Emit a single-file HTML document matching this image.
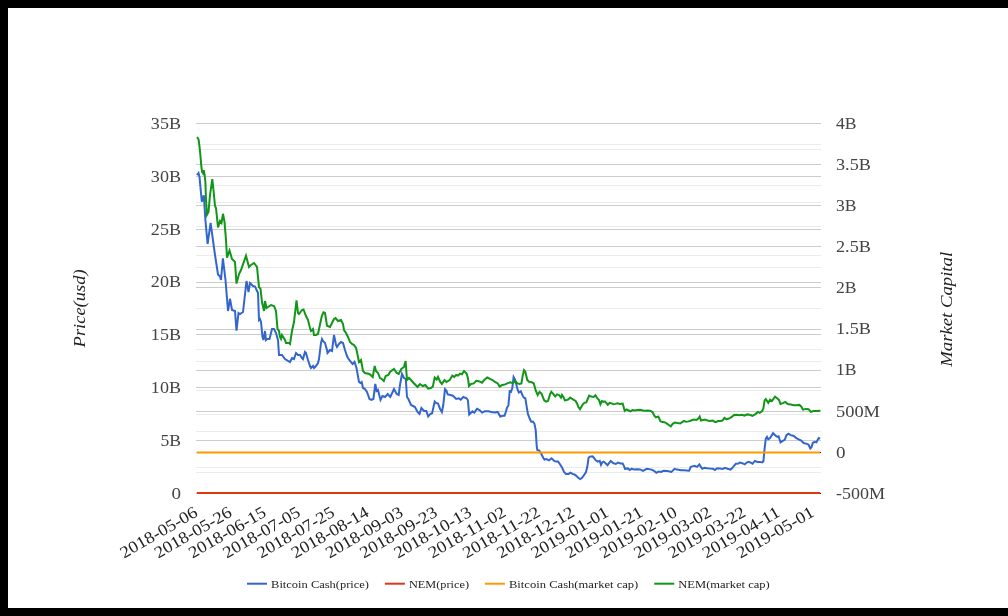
<!DOCTYPE html><html><head><meta charset="utf-8"><title>Chart</title><style>
html,body{margin:0;padding:0;background:#000;}
body{width:1008px;height:616px;overflow:hidden;position:relative;}
svg{position:absolute;left:0;top:0;display:block;will-change:transform;}
text{font-family:"Liberation Serif",serif;}
</style></head><body>
<svg width="1008" height="616" viewBox="0 0 1008 616">
<rect x="8" y="8" width="1000" height="600" fill="#ffffff"/>
<g fill="#ebebeb">
<rect x="196" y="144" width="625" height="1"/>
<rect x="196" y="149" width="625" height="1"/>
<rect x="196" y="185" width="625" height="1"/>
<rect x="196" y="202" width="625" height="1"/>
<rect x="196" y="226" width="625" height="1"/>
<rect x="196" y="255" width="625" height="1"/>
<rect x="196" y="267" width="625" height="1"/>
<rect x="196" y="308" width="625" height="1"/>
<rect x="196" y="349" width="625" height="1"/>
<rect x="196" y="361" width="625" height="1"/>
<rect x="196" y="390" width="625" height="1"/>
<rect x="196" y="414" width="625" height="1"/>
<rect x="196" y="431" width="625" height="1"/>
<rect x="196" y="467" width="625" height="1"/>
<rect x="196" y="472" width="625" height="1"/>
</g><g fill="#cccccc">
<rect x="196" y="123" width="625" height="1"/>
<rect x="196" y="164" width="625" height="1"/>
<rect x="196" y="176" width="625" height="1"/>
<rect x="196" y="205" width="625" height="1"/>
<rect x="196" y="229" width="625" height="1"/>
<rect x="196" y="246" width="625" height="1"/>
<rect x="196" y="282" width="625" height="1"/>
<rect x="196" y="287" width="625" height="1"/>
<rect x="196" y="329" width="625" height="1"/>
<rect x="196" y="334" width="625" height="1"/>
<rect x="196" y="370" width="625" height="1"/>
<rect x="196" y="387" width="625" height="1"/>
<rect x="196" y="411" width="625" height="1"/>
<rect x="196" y="440" width="625" height="1"/>
<rect x="196" y="452" width="625" height="1"/>
<rect x="196" y="493" width="625" height="1"/>
</g>
<polyline points="196.9,175.0 198.5,173.0 199.5,177.0 201.8,201.6 203.8,195.3 205.4,220.0 207.6,244.0 210.6,222.9 215.0,255.0 218.0,274.5 220.0,276.5 221.0,280.0 222.9,258.3 225.5,280.0 228.0,311.0 230.0,298.8 232.0,310.0 235.0,311.0 236.5,330.6 238.5,313.0 240.0,314.0 243.0,312.0 246.5,281.0 248.5,292.0 250.0,283.0 253.0,286.0 255.0,286.5 258.0,293.0 259.0,320.0 260.0,319.0 261.0,322.0 262.5,337.0 263.5,340.0 265.0,331.0 266.0,340.0 267.0,339.0 269.5,339.0 272.0,329.0 274.0,329.0 276.0,333.0 278.0,340.0 279.0,355.0 280.0,355.0 282.0,355.0 285.0,359.0 290.0,362.0 292.0,358.0 294.0,359.0 296.0,353.0 298.0,355.0 300.0,355.0 302.0,358.0 303.0,359.0 305.0,352.0 306.0,353.0 308.0,360.0 310.0,366.0 311.0,368.0 313.0,366.0 314.0,368.0 316.0,366.0 318.0,363.0 319.0,359.0 321.0,343.0 322.0,339.0 323.0,341.0 325.0,343.0 327.0,350.0 327.5,353.0 330.0,350.0 332.0,351.0 334.0,335.0 336.0,345.0 337.0,347.0 339.0,344.0 341.0,342.0 343.0,343.0 345.0,350.0 347.0,356.0 348.0,358.0 350.0,361.0 352.6,364.0 354.5,362.0 356.5,368.0 359.0,382.0 360.4,383.0 361.7,382.0 363.0,388.0 365.0,389.0 367.0,392.0 369.5,399.0 371.4,400.0 373.4,399.0 375.3,384.0 376.6,391.0 378.0,390.0 380.5,400.0 382.5,396.0 385.0,397.0 387.7,394.0 390.3,397.0 394.0,389.0 396.7,394.0 398.7,395.0 400.0,385.0 402.0,374.0 404.0,378.0 405.8,379.0 407.0,397.0 408.4,399.0 411.0,405.0 413.0,406.0 415.0,407.0 417.5,412.0 419.5,414.0 421.4,408.0 424.0,411.0 426.3,411.0 428.2,416.5 430.2,414.0 432.1,413.2 434.7,401.6 436.0,402.9 438.0,403.5 440.0,408.7 441.9,412.0 443.2,405.5 445.0,389.2 446.4,390.5 447.7,394.4 450.3,395.0 452.9,395.7 456.2,399.0 458.8,398.3 460.7,399.6 463.3,397.0 466.6,398.3 467.9,400.3 469.2,414.5 470.5,413.2 472.4,411.3 474.4,412.6 477.0,408.7 479.5,410.0 482.1,412.6 484.7,411.3 488.6,411.3 491.2,412.0 495.0,412.6 497.7,412.0 500.3,416.5 503.0,415.8 504.5,415.8 505.8,412.0 507.1,407.4 508.4,405.5 509.7,391.2 511.0,391.8 512.3,388.0 513.6,376.9 515.0,379.5 516.2,384.0 517.5,389.2 518.8,392.5 520.8,391.2 522.7,395.7 524.0,397.7 525.3,398.3 526.6,406.1 527.9,413.9 529.9,419.0 531.2,421.7 533.1,421.7 534.4,423.6 535.7,430.1 536.7,446.0 537.3,449.9 539.3,450.5 541.2,453.8 543.2,457.7 544.5,459.6 546.4,459.0 549.0,460.3 551.6,458.3 554.2,460.9 556.2,461.6 558.1,461.6 560.0,464.2 562.0,467.4 564.0,472.0 566.0,473.9 568.5,473.9 570.5,472.6 572.4,473.9 574.4,474.5 576.3,475.8 578.2,477.8 580.2,479.1 582.1,477.8 584.0,475.2 586.0,472.0 587.3,466.8 588.6,457.7 589.9,456.6 592.5,456.4 593.8,457.7 595.8,460.3 597.7,461.6 599.7,460.9 601.0,464.8 602.3,462.2 603.6,461.6 604.8,462.5 607.5,465.2 610.7,460.9 613.5,463.3 615.9,464.0 617.9,462.5 620.6,463.4 622.6,463.4 623.8,465.6 625.0,468.8 627.8,468.4 629.8,470.0 631.7,468.7 634.1,469.6 637.3,469.2 640.1,469.4 642.9,470.8 646.8,468.8 651.6,469.6 654.0,470.8 656.3,472.8 658.7,471.6 661.1,472.0 663.5,470.8 667.5,471.0 671.4,472.0 674.6,468.8 677.0,469.6 680.9,470.3 683.8,470.3 686.8,470.6 689.2,470.8 690.7,466.9 692.6,466.4 694.6,465.9 697.0,466.9 699.4,464.4 700.9,466.9 702.3,468.8 704.3,467.8 707.2,468.3 710.1,468.6 713.0,468.8 715.0,470.0 717.0,468.3 719.9,468.6 722.8,469.0 724.7,467.8 727.7,468.8 730.6,469.6 732.0,468.3 734.0,465.9 735.9,463.8 738.4,463.5 739.8,462.5 742.3,463.2 744.7,464.4 746.2,463.0 748.1,461.8 750.5,462.5 752.5,463.8 754.9,460.9 757.3,461.9 759.7,461.9 762.2,462.5 763.4,461.3 764.6,448.5 765.8,438.7 767.0,436.9 768.3,439.3 770.1,438.1 773.1,433.2 775.6,435.7 777.4,436.9 778.6,436.3 780.5,442.4 782.3,441.2 784.7,439.9 786.5,435.1 788.4,433.6 790.8,435.1 793.8,436.0 796.3,438.1 798.7,439.3 801.2,440.5 803.6,443.0 806.0,443.6 808.5,444.6 810.3,448.5 811.5,447.2 812.7,443.0 814.6,441.8 816.4,442.4 817.6,440.0 818.8,438.1 820.1,438.7" fill="none" stroke="#3366cc" stroke-width="2"/>
<path d="M196.86 493H820.14" stroke="#dc3912" stroke-width="2" fill="none"/>
<path d="M196.86 452.40H820.14" stroke="#ff9900" stroke-width="2" fill="none"/>
<polyline points="197.1,137.0 198.6,139.5 199.7,148.2 200.5,156.4 201.3,166.1 202.1,171.8 202.9,173.0 203.7,170.1 204.5,174.2 205.4,182.0 206.0,200.0 207.0,214.8 208.5,212.0 210.0,195.0 212.3,179.2 213.5,190.0 215.0,206.0 216.0,208.0 218.0,227.4 220.0,221.0 221.5,223.0 223.0,213.8 224.5,222.0 226.0,240.0 227.0,257.7 229.5,250.5 232.0,259.0 235.0,262.0 236.5,283.6 239.0,274.0 241.0,270.0 246.0,255.7 249.0,267.0 251.0,265.0 254.0,263.0 257.0,267.0 259.0,287.0 260.5,289.0 262.0,302.0 264.0,311.0 265.0,301.0 266.5,308.0 268.0,307.0 271.0,305.0 274.0,306.0 276.0,311.0 277.5,329.0 279.0,331.0 280.0,337.0 281.0,339.0 282.0,335.0 285.0,340.0 286.0,343.0 289.0,343.0 290.0,344.0 292.0,331.0 294.0,322.0 296.5,300.4 298.0,313.0 299.0,314.0 302.0,310.0 303.5,309.5 306.0,316.0 308.0,320.0 310.0,328.0 311.0,331.0 313.0,329.0 314.0,335.0 316.0,335.0 318.0,334.0 319.9,325.0 321.8,316.0 323.5,312.3 325.0,313.0 327.0,325.7 330.0,327.0 332.0,323.0 334.0,319.0 335.5,318.0 338.0,321.0 341.0,320.0 343.0,324.0 344.0,330.0 346.0,333.0 348.0,337.0 350.0,342.0 352.0,344.0 354.0,345.0 356.0,348.0 357.0,352.0 359.0,362.0 361.0,360.0 363.0,371.0 365.0,373.0 369.5,374.0 372.7,377.0 374.7,366.0 376.0,371.0 378.0,373.0 380.0,378.0 381.8,379.0 383.8,381.0 385.7,376.0 388.3,375.0 390.0,372.0 394.0,369.0 396.7,373.0 398.7,374.0 401.3,369.0 404.0,367.0 405.6,361.0 407.0,380.0 409.0,378.0 411.0,380.0 413.6,383.0 417.5,387.0 420.0,384.0 422.7,386.0 425.3,385.0 428.2,388.6 430.8,388.0 432.8,386.6 434.7,377.5 436.7,379.5 438.0,376.9 440.0,381.4 441.9,384.0 444.5,380.0 446.4,382.0 449.7,380.0 452.3,375.6 454.2,376.9 456.2,375.0 458.0,375.6 460.0,373.6 462.0,374.3 464.0,371.0 466.6,373.6 467.9,378.0 469.0,386.0 471.0,384.0 473.7,383.4 476.3,380.8 479.5,381.4 482.0,382.7 484.7,379.5 487.3,377.5 490.0,378.8 492.5,380.0 495.0,382.0 497.7,383.4 499.7,386.6 501.6,385.3 505.2,384.4 507.8,383.1 510.4,382.3 513.0,383.4 515.0,380.8 517.5,383.4 519.5,384.0 521.4,383.4 522.7,375.6 524.0,370.1 525.3,371.7 527.3,380.1 529.2,381.8 531.8,382.3 533.8,383.4 535.7,390.5 537.7,395.0 539.6,391.8 541.6,393.8 544.2,400.3 546.1,401.6 548.0,401.0 550.0,394.4 551.3,391.8 553.2,393.8 555.2,396.4 557.1,394.4 559.0,395.0 561.0,397.7 562.0,395.0 563.4,397.0 564.9,400.4 566.8,400.0 568.3,399.5 570.2,397.5 572.2,399.0 574.1,400.0 575.6,401.0 577.0,403.4 578.5,407.3 580.0,409.2 581.4,406.8 582.9,404.3 584.3,402.9 586.3,402.4 587.7,399.0 589.2,395.6 591.2,396.6 593.6,397.0 595.5,395.4 597.0,398.0 599.0,400.0 600.4,404.3 601.9,401.0 603.3,401.9 604.8,401.4 606.3,402.9 607.7,404.8 609.7,402.9 611.6,403.4 613.6,404.3 615.5,403.9 617.4,403.4 620.0,404.0 622.7,403.6 624.0,408.2 624.7,410.8 626.6,409.5 628.6,410.5 630.5,411.4 632.5,410.1 635.0,410.5 637.7,410.1 640.3,409.7 642.9,410.5 645.5,410.8 648.0,410.5 650.6,411.0 652.6,412.3 654.5,416.0 655.8,417.3 658.4,416.6 660.4,421.2 661.7,421.8 664.3,422.2 666.2,423.1 668.8,425.0 670.8,426.4 672.7,423.8 674.7,422.5 677.6,423.1 680.2,423.5 682.1,422.2 684.1,420.9 686.0,421.8 688.6,421.4 691.2,420.5 693.8,419.6 696.4,419.9 698.4,418.6 699.7,416.6 701.0,420.5 703.0,420.1 704.9,419.6 707.5,420.5 710.0,420.9 712.7,420.5 714.6,421.8 716.0,422.2 717.9,420.9 720.5,420.9 722.4,420.5 724.4,417.9 726.3,419.2 728.2,418.8 730.2,417.9 732.1,416.6 734.1,414.9 736.7,414.7 739.3,415.3 741.9,414.7 744.5,415.7 747.1,414.4 749.7,414.7 752.4,415.8 755.5,414.1 757.9,411.9 759.7,412.9 762.2,411.0 763.4,408.3 764.6,400.4 765.8,399.1 768.3,402.8 770.1,399.7 771.9,401.0 775.0,396.7 777.4,398.5 779.2,400.4 780.5,404.0 782.9,403.2 785.3,401.9 787.8,404.0 790.8,404.6 793.8,405.2 796.3,405.2 799.3,404.9 801.2,406.4 803.0,409.7 806.0,408.9 808.5,409.2 810.9,411.9 813.3,411.0 816.4,411.0 819.4,410.7 820.1,411.3" fill="none" stroke="#109618" stroke-width="2"/>
<rect x="820" y="452" width="1" height="1" fill="#222"/><rect x="820" y="493" width="1" height="1" fill="#222"/>
<text x="181.00" y="128.80" font-size="16.70" fill="#444" text-anchor="end" textLength="30.11" lengthAdjust="spacingAndGlyphs">35B</text>
<text x="181.00" y="181.66" font-size="16.70" fill="#444" text-anchor="end" textLength="30.11" lengthAdjust="spacingAndGlyphs">30B</text>
<text x="181.00" y="234.51" font-size="16.70" fill="#444" text-anchor="end" textLength="30.11" lengthAdjust="spacingAndGlyphs">25B</text>
<text x="181.00" y="287.37" font-size="16.70" fill="#444" text-anchor="end" textLength="30.11" lengthAdjust="spacingAndGlyphs">20B</text>
<text x="181.00" y="340.23" font-size="16.70" fill="#444" text-anchor="end" textLength="30.11" lengthAdjust="spacingAndGlyphs">15B</text>
<text x="181.00" y="393.09" font-size="16.70" fill="#444" text-anchor="end" textLength="30.11" lengthAdjust="spacingAndGlyphs">10B</text>
<text x="181.00" y="445.94" font-size="16.70" fill="#444" text-anchor="end" textLength="20.57" lengthAdjust="spacingAndGlyphs">5B</text>
<text x="181.00" y="498.80" font-size="16.70" fill="#444" text-anchor="end" textLength="9.54" lengthAdjust="spacingAndGlyphs">0</text>
<text x="836.00" y="128.80" font-size="16.70" fill="#444" text-anchor="start" textLength="20.57" lengthAdjust="spacingAndGlyphs">4B</text>
<text x="836.00" y="169.91" font-size="16.70" fill="#444" text-anchor="start" textLength="34.88" lengthAdjust="spacingAndGlyphs">3.5B</text>
<text x="836.00" y="211.02" font-size="16.70" fill="#444" text-anchor="start" textLength="20.57" lengthAdjust="spacingAndGlyphs">3B</text>
<text x="836.00" y="252.13" font-size="16.70" fill="#444" text-anchor="start" textLength="34.88" lengthAdjust="spacingAndGlyphs">2.5B</text>
<text x="836.00" y="293.24" font-size="16.70" fill="#444" text-anchor="start" textLength="20.57" lengthAdjust="spacingAndGlyphs">2B</text>
<text x="836.00" y="334.36" font-size="16.70" fill="#444" text-anchor="start" textLength="34.88" lengthAdjust="spacingAndGlyphs">1.5B</text>
<text x="836.00" y="375.47" font-size="16.70" fill="#444" text-anchor="start" textLength="20.57" lengthAdjust="spacingAndGlyphs">1B</text>
<text x="836.00" y="416.58" font-size="16.70" fill="#444" text-anchor="start" textLength="43.99" lengthAdjust="spacingAndGlyphs">500M</text>
<text x="836.00" y="457.69" font-size="16.70" fill="#444" text-anchor="start" textLength="9.54" lengthAdjust="spacingAndGlyphs">0</text>
<text x="836.00" y="498.80" font-size="16.70" fill="#444" text-anchor="start" textLength="49.06" lengthAdjust="spacingAndGlyphs">-500M</text>
<text x="198.86" y="515.40" font-size="16.70" fill="#222" text-anchor="end" textLength="86.48" lengthAdjust="spacingAndGlyphs" transform="rotate(-30 198.86 515.40)">2018-05-06</text>
<text x="233.10" y="515.40" font-size="16.70" fill="#222" text-anchor="end" textLength="86.48" lengthAdjust="spacingAndGlyphs" transform="rotate(-30 233.10 515.40)">2018-05-26</text>
<text x="267.35" y="515.40" font-size="16.70" fill="#222" text-anchor="end" textLength="86.48" lengthAdjust="spacingAndGlyphs" transform="rotate(-30 267.35 515.40)">2018-06-15</text>
<text x="301.60" y="515.40" font-size="16.70" fill="#222" text-anchor="end" textLength="86.48" lengthAdjust="spacingAndGlyphs" transform="rotate(-30 301.60 515.40)">2018-07-05</text>
<text x="335.84" y="515.40" font-size="16.70" fill="#222" text-anchor="end" textLength="86.48" lengthAdjust="spacingAndGlyphs" transform="rotate(-30 335.84 515.40)">2018-07-25</text>
<text x="370.09" y="515.40" font-size="16.70" fill="#222" text-anchor="end" textLength="86.48" lengthAdjust="spacingAndGlyphs" transform="rotate(-30 370.09 515.40)">2018-08-14</text>
<text x="404.34" y="515.40" font-size="16.70" fill="#222" text-anchor="end" textLength="86.48" lengthAdjust="spacingAndGlyphs" transform="rotate(-30 404.34 515.40)">2018-09-03</text>
<text x="438.58" y="515.40" font-size="16.70" fill="#222" text-anchor="end" textLength="86.48" lengthAdjust="spacingAndGlyphs" transform="rotate(-30 438.58 515.40)">2018-09-23</text>
<text x="472.83" y="515.40" font-size="16.70" fill="#222" text-anchor="end" textLength="86.48" lengthAdjust="spacingAndGlyphs" transform="rotate(-30 472.83 515.40)">2018-10-13</text>
<text x="507.08" y="515.40" font-size="16.70" fill="#222" text-anchor="end" textLength="86.48" lengthAdjust="spacingAndGlyphs" transform="rotate(-30 507.08 515.40)">2018-11-02</text>
<text x="541.32" y="515.40" font-size="16.70" fill="#222" text-anchor="end" textLength="86.48" lengthAdjust="spacingAndGlyphs" transform="rotate(-30 541.32 515.40)">2018-11-22</text>
<text x="575.57" y="515.40" font-size="16.70" fill="#222" text-anchor="end" textLength="86.48" lengthAdjust="spacingAndGlyphs" transform="rotate(-30 575.57 515.40)">2018-12-12</text>
<text x="609.82" y="515.40" font-size="16.70" fill="#222" text-anchor="end" textLength="86.48" lengthAdjust="spacingAndGlyphs" transform="rotate(-30 609.82 515.40)">2019-01-01</text>
<text x="644.06" y="515.40" font-size="16.70" fill="#222" text-anchor="end" textLength="86.48" lengthAdjust="spacingAndGlyphs" transform="rotate(-30 644.06 515.40)">2019-01-21</text>
<text x="678.31" y="515.40" font-size="16.70" fill="#222" text-anchor="end" textLength="86.48" lengthAdjust="spacingAndGlyphs" transform="rotate(-30 678.31 515.40)">2019-02-10</text>
<text x="712.55" y="515.40" font-size="16.70" fill="#222" text-anchor="end" textLength="86.48" lengthAdjust="spacingAndGlyphs" transform="rotate(-30 712.55 515.40)">2019-03-02</text>
<text x="746.80" y="515.40" font-size="16.70" fill="#222" text-anchor="end" textLength="86.48" lengthAdjust="spacingAndGlyphs" transform="rotate(-30 746.80 515.40)">2019-03-22</text>
<text x="781.05" y="515.40" font-size="16.70" fill="#222" text-anchor="end" textLength="86.48" lengthAdjust="spacingAndGlyphs" transform="rotate(-30 781.05 515.40)">2019-04-11</text>
<text x="815.29" y="515.40" font-size="16.70" fill="#222" text-anchor="end" textLength="86.48" lengthAdjust="spacingAndGlyphs" transform="rotate(-30 815.29 515.40)">2019-05-01</text>
<text x="84.80" y="308.40" font-size="16.70" fill="#222" text-anchor="middle" textLength="78.00" lengthAdjust="spacingAndGlyphs" font-style="italic" transform="rotate(-90 84.8 308.4)">Price(usd)</text>
<text x="951.60" y="309.30" font-size="16.70" fill="#222" text-anchor="middle" textLength="114.82" lengthAdjust="spacingAndGlyphs" font-style="italic" transform="rotate(-90 951.6 309.3)">Market Capital</text>
<rect x="247.00" y="582.7" width="20" height="2" fill="#3366cc"/>
<text x="271.10" y="588.00" font-size="11.13" fill="#222" text-anchor="start" textLength="97.89" lengthAdjust="spacingAndGlyphs">Bitcoin Cash(price)</text>
<rect x="384.89" y="582.7" width="20" height="2" fill="#dc3912"/>
<text x="408.99" y="588.00" font-size="11.13" fill="#222" text-anchor="start" textLength="59.99" lengthAdjust="spacingAndGlyphs">NEM(price)</text>
<rect x="484.88" y="582.7" width="20" height="2" fill="#ff9900"/>
<text x="508.98" y="588.00" font-size="11.13" fill="#222" text-anchor="start" textLength="129.36" lengthAdjust="spacingAndGlyphs">Bitcoin Cash(market cap)</text>
<rect x="654.24" y="582.7" width="20" height="2" fill="#109618"/>
<text x="678.34" y="588.00" font-size="11.13" fill="#222" text-anchor="start" textLength="91.46" lengthAdjust="spacingAndGlyphs">NEM(market cap)</text>
</svg></body></html>
